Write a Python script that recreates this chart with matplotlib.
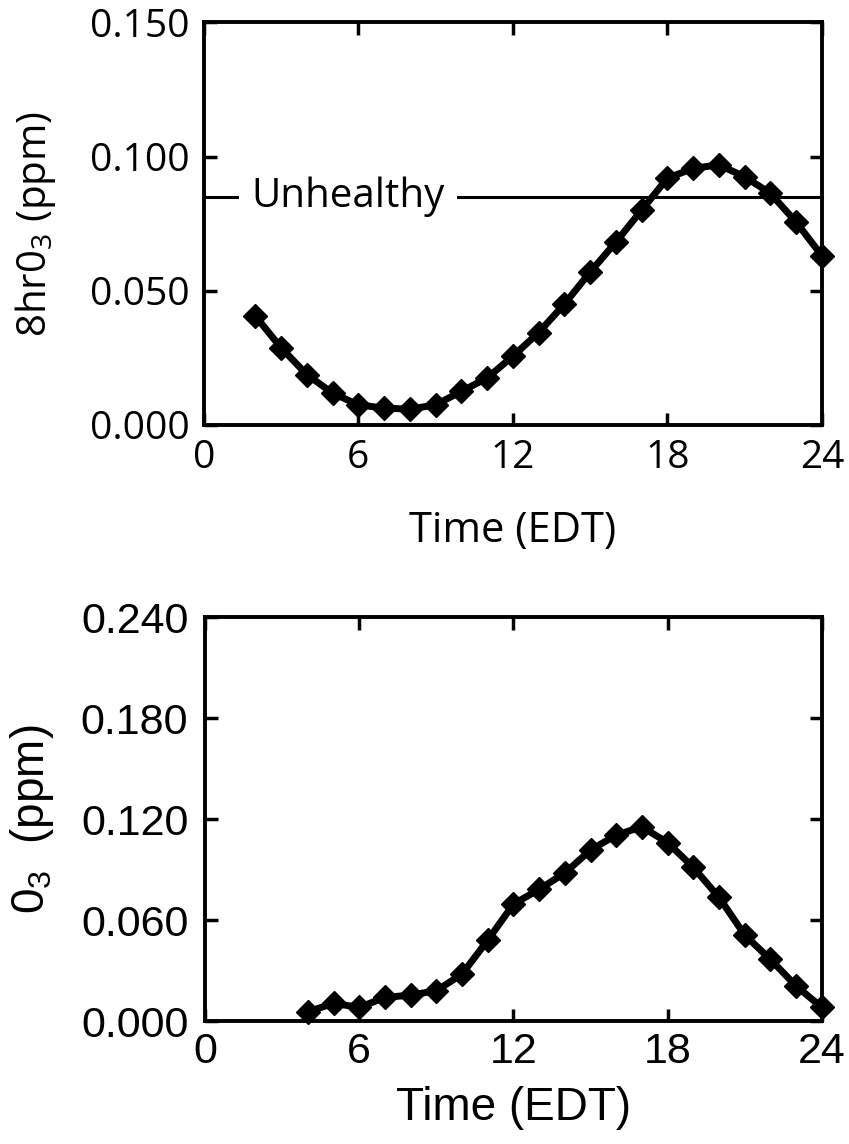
import matplotlib
matplotlib.use("Agg")
import matplotlib.pyplot as plt

# ---- data ----
hours_8hr = [2, 3, 4, 5, 6, 7, 8, 9, 10, 11, 12, 13, 14, 15, 16, 17, 18, 19, 20, 21, 22, 23, 24]
o3_8hr = [0.0406, 0.0288, 0.0188, 0.0119, 0.0075, 0.0063, 0.0059, 0.0075, 0.0125, 0.0175,
          0.0256, 0.0344, 0.0450, 0.0569, 0.0681, 0.0800, 0.0919, 0.0956, 0.0969, 0.0925,
          0.0863, 0.0756, 0.0631]
unhealthy_level = 0.085
unhealthy_label = "Unhealthy"

hours_1hr = [4, 5, 6, 7, 8, 9, 10, 11, 12, 13, 14, 15, 16, 17, 18, 19, 20, 21, 22, 23, 24]
o3_1hr = [0.0055, 0.0105, 0.0081, 0.0140, 0.0154, 0.0180, 0.0279, 0.0480, 0.0695, 0.0782,
          0.0880, 0.1016, 0.1105, 0.1154, 0.1060, 0.0913, 0.0735, 0.0511, 0.0366, 0.0208,
          0.0081]

x_ticks = [0, 6, 12, 18, 24]
y_ticks_top = [0.000, 0.050, 0.100, 0.150]
y_ticks_bot = [0.000, 0.060, 0.120, 0.180, 0.240]

fig = plt.figure(figsize=(8.49, 11.44), dpi=100)

ax1 = fig.add_axes([0.240, 0.6285, 0.728, 0.352])
ax2 = fig.add_axes([0.2415, 0.1075, 0.7265, 0.353])

def style(ax, family, yticks, fs, ypad, xpad):
    ax.set_xlim(0, 24)
    ax.set_ylim(yticks[0], yticks[-1])
    ax.set_xticks(x_ticks)
    ax.set_yticks(yticks)
    ax.set_xticklabels([str(t) for t in x_ticks], family=family, fontsize=fs)
    ax.set_yticklabels([f"{t:.3f}" for t in yticks], family=family, fontsize=fs)
    ax.tick_params(direction="in", length=9, width=2.5, top=True, right=True)
    ax.tick_params(axis="y", pad=ypad)
    ax.tick_params(axis="x", pad=xpad)
    for s in ax.spines.values():
        s.set_linewidth(2.8)

# top panel
style(ax1, "Open Sans", y_ticks_top, 28, 10, 10)
ax1.axhline(unhealthy_level, color="black", lw=2.2, zorder=1)
ax1.text(1.85, unhealthy_level, unhealthy_label, family="Open Sans", fontsize=29,
         va="center", ha="left", zorder=2,
         bbox=dict(boxstyle="square,pad=0.3", fc="white", ec="none"))
ax1.plot(hours_8hr, o3_8hr, color="black", lw=5, marker="D", markersize=12, zorder=3)
ax1.set_xlabel("Time (EDT)", family="Open Sans", fontsize=30, labelpad=24)
ax1.set_ylabel("8hr0$_\\mathregular{3}$ (ppm)", family="Open Sans", fontsize=29, labelpad=23)

# bottom panel
style(ax2, "Liberation Sans", y_ticks_bot, 31, 12, 8)
ax2.plot(hours_1hr, o3_1hr, color="black", lw=5, marker="D", markersize=12, zorder=3)
ax2.set_xlabel("Time (EDT)", family="Liberation Sans", fontsize=33, labelpad=10)
ax2.set_ylabel("0$_\\mathregular{3}$  (ppm)", family="Liberation Sans", fontsize=33, labelpad=18)

for ax in (ax1, ax2):
    for line in ax.lines:
        line.set_clip_on(False)

fig.savefig("out.png", dpi=100)
